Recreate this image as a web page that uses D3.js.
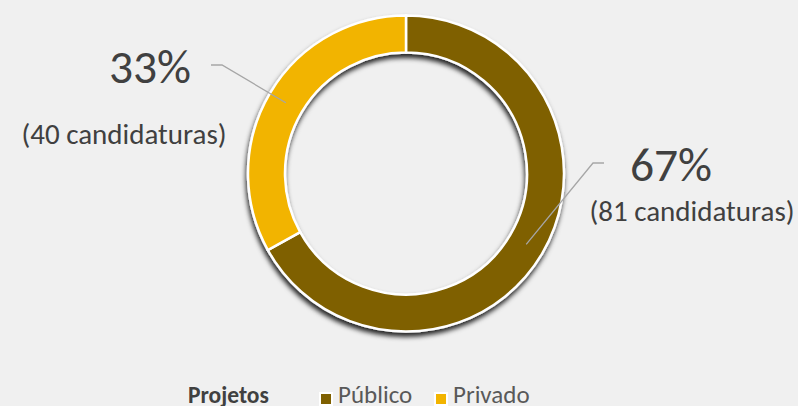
<!DOCTYPE html>
<html><head><meta charset="utf-8">
<script src="https://cdn.jsdelivr.net/npm/d3@7"></script>
<style>
html,body{margin:0;padding:0;background:#f0f0f0;}
svg{display:block;font-family:Carlito,"Open Sans",sans-serif;}
</style></head>
<body><svg id="c" width="798" height="406"></svg>
<script>
const categories = ["Público", "Privado"];
const counts = [81, 40];
const percentLabels = ["67%", "33%"];
const countLabels = ["(81 candidaturas)", "(40 candidaturas)"];
const colors = ["#7f6000", "#f2b400"];
const legendTitle = "Projetos";

const W = 798, H = 406;
const svg = d3.select("#c");
svg.append("rect").attr("width", W).attr("height", H).attr("fill", "#f0f0f0");

const defs = svg.append("defs");
const f = defs.append("filter").attr("id", "sh").attr("x", "-20%").attr("y", "-20%").attr("width", "140%").attr("height", "140%");
f.append("feDropShadow").attr("dx", -1).attr("dy", 4).attr("stdDeviation", 2.5)
  .attr("flood-color", "#000").attr("flood-opacity", 0.85);

const cx = 406, cy = 173.5, rOuter = 158, rInner = 121;
const pie = d3.pie().sort(null).value(d => d)(counts);
const arc = d3.arc().innerRadius(rInner).outerRadius(rOuter);
const g = svg.append("g").attr("transform", `translate(${cx},${cy})`);

g.append("g").attr("filter", "url(#sh)")
  .selectAll("path").data(pie).join("path")
  .attr("d", arc)
  .attr("fill", (d, i) => colors[i])
  .attr("stroke", "#fff").attr("stroke-width", 2.5).attr("stroke-linejoin", "miter");

// label layout: elbow offsets relative to centre, text positions
const elbow = [[187, -10.5], [-184, -108.5]];
const elbowLen = [11, 11];
const pctPos = [[265, 7.5], [-256, -90.5]];
const cntPos = [[286, 47.5], [-282, -29.5]];

pie.forEach((d, i) => {
  const c = arc.centroid(d);
  const e = elbow[i];
  const dir = i === 0 ? 1 : -1;
  g.append("polyline")
    .attr("points", [c, e, [e[0] + dir * elbowLen[i], e[1]]].map(p => p.join(",")).join(" "))
    .attr("fill", "none").attr("stroke", "#a6a6a6").attr("stroke-width", 1.3);
  g.append("text").attr("x", pctPos[i][0]).attr("y", pctPos[i][1])
    .attr("text-anchor", "middle").attr("font-size", 47.5).attr("fill", "#404040")
    .text(percentLabels[i]);
  g.append("text").attr("x", cntPos[i][0]).attr("y", cntPos[i][1])
    .attr("text-anchor", "middle").attr("font-size", 29).attr("fill", "#404040")
    .text(countLabels[i]);
});

// legend
const lg = svg.append("g");
lg.append("text").attr("x", 188).attr("y", 403).attr("font-size", 23.5).attr("font-weight", "bold")
  .attr("fill", "#404040").text(legendTitle);
const lx = [320, 435];
categories.forEach((c, i) => {
  lg.append("rect").attr("x", lx[i]).attr("y", 393).attr("width", 12).attr("height", 12)
    .attr("fill", colors[i]).attr("stroke", "#fff").attr("stroke-width", 2);
  lg.append("text").attr("x", lx[i] + 18).attr("y", 403).attr("font-size", 25)
    .attr("fill", "#595959").text(c);
});
</script></body></html>
